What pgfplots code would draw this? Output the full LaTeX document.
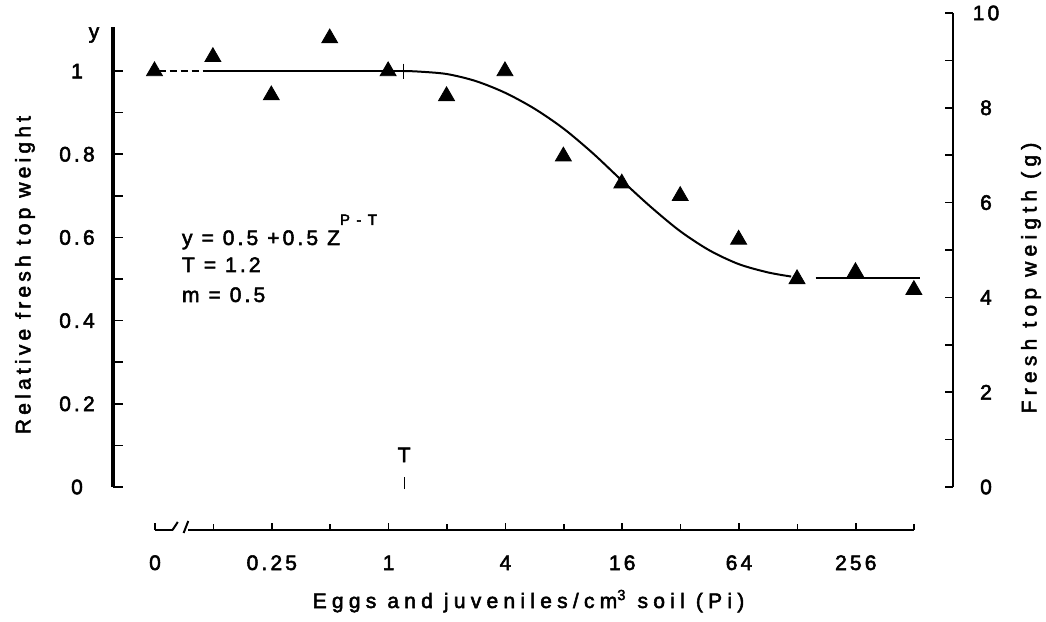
\documentclass[border=0pt]{standalone}
\usepackage{fontspec}
\setmainfont{Liberation Sans}[LetterSpace=15, FakeBold=2.5]
\newfontfamily\widefont{Liberation Sans}[LetterSpace=25, FakeBold=2.5]
\newfontfamily\lfont{Liberation Sans}[LetterSpace=20, FakeBold=2.5]
\usepackage{pgfplots}
\usepackage{pgfplotstable}
\pgfplotsset{compat=1.18}
\newcommand\fs{\fontsize{10.5bp}{12.6bp}\selectfont}
\newcommand\sups[1]{\raisebox{10bp}{\fontsize{7.5bp}{9bp}\selectfont #1}}

\pgfplotstableread{
L y
-4 1.0
-3 1.034
-2 0.942
-1 1.079
0 1.0
1 0.94
2 1.0
3 0.795
4 0.73
5 0.70
6 0.595
7 0.50
8 0.517
9 0.474
}\obs

\begin{document}
\begin{tikzpicture}
\useasboundingbox (-56.5bp,-67.5bp) rectangle (466.5bp,243.5bp);
% main (left) axis
\begin{axis}[at={(0,0)}, anchor=south west, scale only axis,
  width=420bp, height=230bp,
  xmin=-4.71, xmax=9.67, ymin=0, ymax=1.106, clip=false,
  axis x line=none, axis y line=left,
  y axis line style={-, line width=1.6bp},
  ytick={0,0.2,0.4,0.6,0.8,1}, yticklabels={0,0.2,0.4,0.6,0.8,1},
  minor ytick={0.1,0.3,0.5,0.7,0.9},
  tick align=inside, major tick length=5bp, minor tick length=5bp,
  every tick/.style={black, line width=0.8bp},
  yticklabel style={anchor=center, xshift=-18bp, font=\fs},
]
\addplot[black, line width=0.9bp, dash pattern=on 3.5bp off 2bp] coordinates {(-3.93,1) (-3.11,1)};
\addplot[black, line width=0.9bp] coordinates {(-3.11,1) (0.263,1)};
\addplot[black, line width=1bp, smooth] coordinates {
(0.263,1.000) (0.5,0.999) (1.0,0.993) (1.5,0.976) (2.0,0.948) (2.5,0.910)
(3.0,0.862) (3.5,0.803) (4.0,0.737) (4.5,0.673) (5.0,0.615) (5.5,0.569)
(6.0,0.536) (6.5,0.516) (6.9,0.506)};
\addplot[black, line width=1bp] coordinates {(7.32,0.503) (9.11,0.503)};
\addplot[only marks, mark=+, mark size=3.75bp, black, mark options={line width=0.8bp}] coordinates {(0.263,1.0)};
\addplot[only marks, mark=triangle*, mark size=4.6bp, black] table[x=L, y=y] {\obs};
\addplot[black, line width=0.6bp] coordinates {(0.274,-0.005) (0.274,0.025)};
\node[font=\fs] at (axis cs:0.274,0.077) {T};
\end{axis}
% right axis
\begin{axis}[at={(0,0)}, anchor=south west, scale only axis,
  width=420bp, height=237bp,
  xmin=0, xmax=1, ymin=0, ymax=10,
  axis x line=none, axis y line=right,
  y axis line style={-, line width=1.3bp},
  ytick={0,2,4,6,8,10}, yticklabels={0,2,4,6,8,10},
  minor ytick={1,3,5,7,9},
  tick align=inside, major tick length=4bp, minor tick length=4bp,
  every tick/.style={black, line width=0.8bp},
  yticklabel style={anchor=center, xshift=16.5bp, font=\fs},
]
\addplot[draw=none] coordinates {(0.5,5)};
\end{axis}
% bottom axis
\begin{axis}[at={(21bp,-21.5bp)}, anchor=south west, scale only axis,
  width=379.6bp, height=10bp,
  xmin=-4, xmax=9, ymin=0, ymax=1, clip=false,
  axis y line=none, axis x line=bottom,
  x axis line style={draw=none},
  xtick={-4,-2,0,2,4,6,8}, xticklabels={0,0.25,1,4,16,64,256},
  minor xtick={-3,-1,1,3,5,7,9},
  tick align=inside, major tick length=3.5bp, minor tick length=3bp,
  every tick/.style={black, line width=0.8bp},
  xticklabel style={anchor=base, yshift=-20bp, font=\fs},
]
\addplot[black, line width=1.4bp] coordinates {(-4,0) (-3.70,0)};
\addplot[black, line width=1bp] coordinates {(-3.70,0) (-3.61,0.4)};
\addplot[black, line width=1bp] coordinates {(-3.51,-0.15) (-3.43,0.45)};
\addplot[black, line width=1.4bp] coordinates {(-3.43,0) (9,0)};
\end{axis}
% labels
\node[font=\lfont\fs, rotate=90] at (-44bp,106bp) {Relative fresh top weight};
\node[font=\widefont\fs, rotate=90] at (459bp,104.5bp) {Fresh top weigth (g)};
\node[font=\widefont\fs, anchor=base] at (207.75bp,-60.5bp) {Eggs and juveniles/cm\textsuperscript{3} soil (Pi)};
\node[font=\fs, anchor=base west] at (31bp,121bp) {y = 0.5 +0.5 Z\sups{P - T}};
\node[font=\fs, anchor=base west] at (31bp,107.5bp) {T = 1.2};
\node[font=\fs, anchor=base west] at (31bp,92.5bp) {m = 0.5};
\node[font=\fs] at (-9.5bp,226bp) {y};
\end{tikzpicture}
\end{document}
